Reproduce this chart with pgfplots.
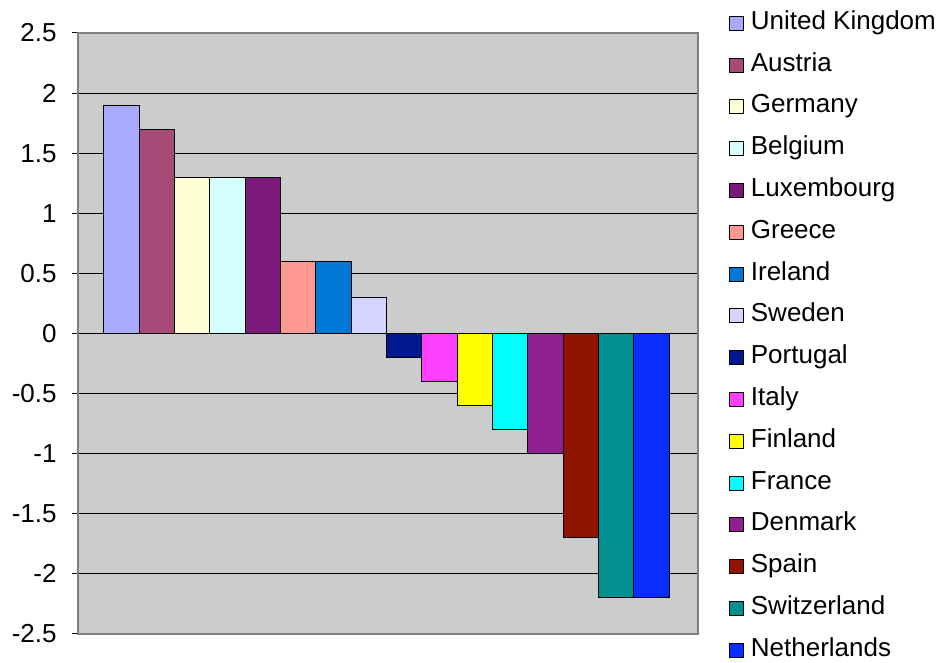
\documentclass[border=0pt]{standalone}
\usepackage{fontspec}
\setmainfont{Liberation Sans}
\usepackage{pgfplots}
\pgfplotsset{compat=1.18}

\definecolor{plotbg}{HTML}{CCCCCC}
\definecolor{cUK}{HTML}{A8AAFF}
\definecolor{cAT}{HTML}{A84A78}
\definecolor{cDE}{HTML}{FFFFD4}
\definecolor{cBE}{HTML}{D4FFFF}
\definecolor{cLU}{HTML}{7B1A7B}
\definecolor{cGR}{HTML}{FF9890}
\definecolor{cIE}{HTML}{0078D8}
\definecolor{cSE}{HTML}{D4D4FF}
\definecolor{cPT}{HTML}{001890}
\definecolor{cIT}{HTML}{FF3FFF}
\definecolor{cFI}{HTML}{FFFF00}
\definecolor{cFR}{HTML}{00FFFF}
\definecolor{cDK}{HTML}{902090}
\definecolor{cES}{HTML}{901400}
\definecolor{cCH}{HTML}{009090}
\definecolor{cNL}{HTML}{0A2EFF}

\begin{document}
\begin{tikzpicture}
\begin{axis}[
    scale only axis,
    width=310pt, height=300.5pt,
    xmin=-1.236, xmax=16.32,
    ymin=-2.5, ymax=2.5,
    xtick=\empty,
    ytick={-2.5,-2,-1.5,-1,-0.5,0,0.5,1,1.5,2,2.5},
    yticklabels={-2.5,-2,-1.5,-1,-0.5,0,0.5,1,1.5,2,2.5},
    ytick pos=left,
    tick align=outside,
    major tick length=3pt,
    ytick style={black, line width=0.5pt},
    ymajorgrids,
    grid style={black, line width=0.5pt},
    axis background/.style={fill=plotbg},
    axis line style={draw=gray, line width=0.8pt},
    tick label style={font=\fontsize{13}{15}\selectfont},
    yticklabel style={anchor=east, inner sep=0pt, xshift=-7.5pt},
    every axis plot/.append style={
        ybar, bar width=1, bar shift=0pt,
        draw=black, line width=0.5pt,
        legend image code/.code={
            \draw[##1, line width=0.5pt] (0pt,-0.5pt) rectangle (7pt,6.5pt);
            \path[draw=none, fill=none] (0pt,0pt) -- (10.5pt,0pt);
        },
    },
    legend style={
        at={(1,1)}, anchor=north west,
        xshift=15.5pt, yshift=11pt,
        draw=none, fill=none, inner sep=0pt,
        font=\fontsize{13}{15}\selectfont,
        row sep=8.9pt,
        nodes={inner sep=0pt, text height=9pt, text depth=3pt, anchor=base west},
    },
    legend cell align=left,
]
\addplot[fill=cUK] coordinates {(0,1.9)};
\addplot[fill=cAT] coordinates {(1,1.7)};
\addplot[fill=cDE] coordinates {(2,1.3)};
\addplot[fill=cBE] coordinates {(3,1.3)};
\addplot[fill=cLU] coordinates {(4,1.3)};
\addplot[fill=cGR] coordinates {(5,0.6)};
\addplot[fill=cIE] coordinates {(6,0.6)};
\addplot[fill=cSE] coordinates {(7,0.3)};
\addplot[fill=cPT] coordinates {(8,-0.2)};
\addplot[fill=cIT] coordinates {(9,-0.4)};
\addplot[fill=cFI] coordinates {(10,-0.6)};
\addplot[fill=cFR] coordinates {(11,-0.8)};
\addplot[fill=cDK] coordinates {(12,-1.0)};
\addplot[fill=cES] coordinates {(13,-1.7)};
\addplot[fill=cCH] coordinates {(14,-2.2)};
\addplot[fill=cNL] coordinates {(15,-2.2)};
\legend{United Kingdom,Austria,Germany,Belgium,Luxembourg,Greece,Ireland,Sweden,Portugal,Italy,Finland,France,Denmark,Spain,Switzerland,Netherlands}
\end{axis}
\path (current axis.south west) ++(-39pt,-11.5pt) rectangle ++(468.5pt,328.5pt);
\end{tikzpicture}
\end{document}
